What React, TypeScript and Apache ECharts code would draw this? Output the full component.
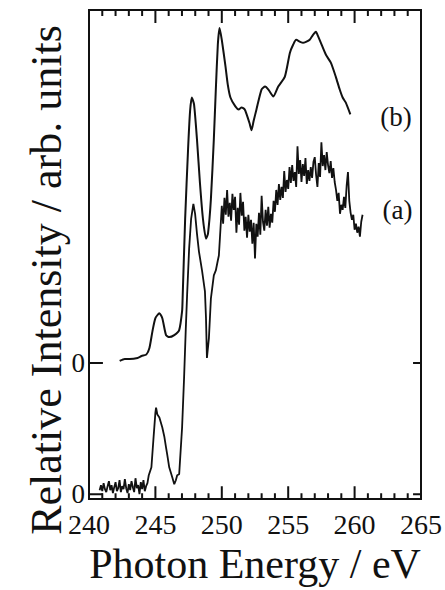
import React, { useEffect, useRef } from "react";
import * as echarts from "echarts";

// X axis (photon energy, eV)
const xMin = 240;
const xMax = 265;
const xInterval = 5;
const xMajorTicks = [245, 250, 255, 260];
const xMinorTicks = [
  241, 242, 243, 244, 246, 247, 248, 249, 251, 252, 253, 254,
  256, 257, 258, 259, 261, 262, 263, 264,
];

// Zero levels on the intensity axis (arb. units): (a) at 0, (b) offset
const zeroA = 0;
const offsetB = 13.2;
const yMin = -0.5;
const yMax = 48.7;
const yTickLabels = ["0", "0"];

const xTitle = "Photon Energy / eV";
const yTitle = "Relative Intensity / arb. units";
const seriesNames = ["(a)", "(b)"];

// Spectrum (b): smooth, values relative to its own zero
const spectrumB: number[][] = [
  [242.31, 0.2], [242.69, 0.4], [243.06, 0.4], [243.66, 0.5], [243.96, 0.7],
  [244.31, 0.83], [244.55, 1.5], [244.78, 3.2], [245.0, 4.5], [245.3, 5.0],
  [245.52, 4.5], [245.8, 2.8], [246.04, 2.6], [246.42, 2.8], [246.79, 3.3],
  [247.01, 5.2], [247.05, 6.5], [247.24, 14.5], [247.46, 21.5], [247.61, 25.3],
  [247.74, 26.7], [247.91, 26.0], [248.13, 22.5], [248.36, 18.0], [248.58, 14.5],
  [248.81, 12.5], [248.96, 13.0], [249.18, 16.5], [249.4, 22.5], [249.55, 27.5],
  [249.7, 32.0], [249.83, 33.7], [250.0, 32.5], [250.28, 29.8], [250.45, 28.0],
  [250.65, 26.7], [251.02, 25.8], [251.27, 25.5], [251.49, 25.7], [251.72, 25.5],
  [251.87, 25.0], [252.09, 24.1], [252.24, 23.4], [252.39, 24.3], [252.61, 25.5],
  [252.99, 27.5], [253.26, 27.8], [253.51, 27.5], [253.88, 26.8], [254.25, 27.8],
  [254.75, 28.8], [255.13, 31.2], [255.37, 32.0], [255.6, 32.5], [255.9, 32.3],
  [256.12, 32.2], [256.34, 32.3], [256.62, 32.5], [256.87, 33.0], [257.09, 33.3],
  [257.24, 32.9], [257.46, 32.2], [257.84, 31.0], [258.21, 30.2], [258.58, 28.8],
  [258.88, 27.5], [259.1, 26.7], [259.33, 26.2], [259.68, 25.0],
];

// Spectrum (a): noisy, values relative to its own zero
const spectrumA: number[][] = [
  [240.8, 0.4], [240.9, 0.9], [241.0, 0.3], [241.1, 1.1], [241.2, 0.5],
  [241.3, 0.2], [241.4, 0.8], [241.5, 1.3], [241.6, 0.4], [241.7, 0.9],
  [241.8, 0.1], [241.9, 0.7], [242.0, 1.2], [242.1, 0.3], [242.2, 0.6],
  [242.3, 1.4], [242.4, 0.2], [242.5, 0.8], [242.6, 0.5], [242.7, 1.5],
  [242.8, 0.6], [242.9, 0.1], [243.0, 1.0], [243.1, 0.4], [243.2, 1.3],
  [243.3, 0.7], [243.4, 0.2], [243.5, 1.6], [243.6, 0.6], [243.7, 0.9],
  [243.8, 0.0], [243.9, 1.2], [244.0, 0.5], [244.1, 1.4], [244.2, 0.3],
  [244.3, 0.8], [244.4, 1.1], [244.5, 1.9],
  [244.7, 2.7], [244.85, 5.5], [245.0, 8.2], [245.05, 8.7], [245.15, 8.0],
  [245.3, 7.7], [245.52, 6.7], [245.67, 5.8], [245.8, 4.7], [245.9, 3.9],
  [246.04, 2.7], [246.27, 1.7], [246.42, 1.0], [246.54, 1.4], [246.64, 1.9],
  [246.79, 2.0], [247.01, 6.7], [247.16, 11.7], [247.29, 16.7], [247.39, 20.1],
  [247.54, 24.7], [247.69, 27.7], [247.86, 29.2], [247.99, 28.2], [248.13, 26.2],
  [248.28, 24.4], [248.51, 22.5], [248.73, 20.4], [248.81, 17.7], [248.88, 13.7],
  [249.03, 15.7], [249.18, 19.7], [249.4, 22.0], [249.55, 22.5], [249.7, 23.5],
  [249.78, 24.0], [249.9, 26.7],
  [250.0, 29.0], [250.1, 27.2], [250.2, 29.8], [250.3, 28.1], [250.4, 30.6],
  [250.5, 27.9], [250.6, 29.3], [250.7, 27.5], [250.8, 30.2], [250.9, 28.6],
  [251.0, 29.9], [251.1, 26.3], [251.2, 28.8], [251.3, 27.1], [251.4, 30.3],
  [251.5, 28.0], [251.6, 29.4], [251.7, 26.5], [251.8, 27.9], [251.9, 25.8],
  [252.0, 28.1], [252.1, 26.4], [252.2, 27.6], [252.3, 25.2], [252.4, 27.3],
  [252.5, 23.7], [252.6, 27.2], [252.7, 25.9], [252.8, 28.3], [252.9, 26.1],
  [253.0, 30.0], [253.1, 27.4], [253.2, 26.5], [253.3, 28.6], [253.4, 27.0],
  [253.5, 28.9], [253.6, 26.8], [253.7, 28.2], [253.8, 27.3], [253.9, 29.5],
  [254.0, 28.4], [254.1, 30.6], [254.2, 29.1], [254.3, 31.2], [254.4, 29.6],
  [254.5, 30.9], [254.6, 29.8], [254.7, 32.5], [254.8, 30.4], [254.9, 31.6],
  [255.0, 30.7], [255.1, 32.9], [255.2, 31.3], [255.3, 33.1], [255.4, 31.5],
  [255.5, 32.4], [255.6, 30.9], [255.7, 35.0], [255.8, 32.2], [255.9, 33.6],
  [256.0, 31.4], [256.1, 33.2], [256.2, 32.0], [256.3, 33.8], [256.4, 31.2],
  [256.5, 32.6], [256.6, 31.5], [256.7, 32.9], [256.8, 31.8], [256.9, 33.4],
  [257.0, 33.9], [257.1, 32.1], [257.2, 30.9], [257.3, 33.3], [257.4, 31.9],
  [257.5, 35.4], [257.6, 33.0], [257.7, 34.1], [257.8, 32.6], [257.9, 34.4],
  [258.0, 33.1], [258.1, 32.3], [258.2, 33.5], [258.3, 31.8], [258.4, 32.8],
  [258.5, 31.4], [258.6, 30.6], [258.7, 29.5], [258.8, 30.3], [258.9, 28.2],
  [259.0, 29.1], [259.1, 28.6], [259.2, 29.9], [259.3, 28.8], [259.4, 31.0],
  [259.5, 32.4], [259.6, 29.5], [259.7, 28.3], [259.8, 27.6], [259.9, 28.1],
  [260.0, 26.6], [260.1, 27.2], [260.2, 26.3], [260.3, 26.9], [260.4, 25.9],
  [260.5, 27.4], [260.6, 28.1],
];

const FONT = "'Liberation Serif', 'DejaVu Serif', serif";
const BLACK = "#111";

// Layout (pixels)
const W = 445;
const H = 590;
const GRID = { left: 89, right: 22, top: 10, bottom: 88 };

export default function App() {
  const ref = useRef<HTMLDivElement>(null);

  useEffect(() => {
    document.body.style.margin = "0";
    if (!ref.current) return;
    const chart = echarts.init(ref.current, null, { renderer: "svg" });

    const bShifted = spectrumB.map(([e, v]) => [e, v + offsetB]);
    const zeroLevels = [zeroA, offsetB];
    let labelIdx = 0;

    // convert tick lengths given in pixels to data units of the axes
    const pxPerX = (W - GRID.left - GRID.right) / (xMax - xMin);
    const pxPerY = (H - GRID.top - GRID.bottom) / (yMax - yMin);
    const dy = (px: number) => px / pxPerY;
    const dx = (px: number) => px / pxPerX;

    // Tick marks as broken line segments (gaps via "-")
    const xTickData = (values: number[], lenPx: number) => {
      const out: any[] = [];
      values.forEach((v) => {
        out.push([v, yMin], [v, yMin + dy(lenPx)], [v, "-"]);
        out.push([v, yMax], [v, yMax - dy(lenPx)], [v, "-"]);
      });
      return out;
    };
    const yTickData = () => {
      const out: any[] = [];
      zeroLevels.forEach((z) => {
        out.push([xMin, z], [xMin + dx(14), z], ["-", "-"]);
        out.push([xMax, z], [xMax - dx(8), z], ["-", "-"]);
      });
      return out;
    };
    const tickSeries = (data: any[]) => ({
      type: "line",
      data,
      silent: true,
      showSymbol: false,
      connectNulls: false,
      clip: false,
      lineStyle: { color: BLACK, width: 2 },
      z: 4,
    });

    chart.setOption({
      animation: false,
      grid: {
        ...GRID,
        show: true,
        borderColor: BLACK,
        borderWidth: 2,
        backgroundColor: "transparent",
      },
      xAxis: {
        type: "value",
        min: xMin,
        max: xMax,
        interval: xInterval,
        name: xTitle,
        nameLocation: "middle",
        nameGap: 43,
        nameTextStyle: { color: BLACK, fontFamily: FONT, fontSize: 42 },
        axisLine: { show: false, onZero: false },
        axisTick: { show: false },
        axisLabel: { show: true, margin: 11, color: BLACK, fontFamily: FONT, fontSize: 28 },
        splitLine: { show: false },
      },
      yAxis: {
        type: "value",
        min: yMin,
        max: yMax,
        axisLine: { show: false, onZero: false },
        axisTick: { show: false },
        axisLabel: {
          show: true,
          customValues: zeroLevels,
          margin: 4,
          color: BLACK,
          fontFamily: FONT,
          fontSize: 27,
          formatter: () => yTickLabels[labelIdx++ % yTickLabels.length],
        },
        splitLine: { show: false },
      },
      graphic: [
        {
          type: "text",
          x: 46,
          y: 280,
          rotation: Math.PI / 2,
          style: {
            text: yTitle,
            font: `44px ${FONT}`,
            fill: BLACK,
            align: "center",
            verticalAlign: "middle",
          },
        },
      ],
      series: [
        {
          name: seriesNames[0],
          type: "line",
          data: spectrumA,
          showSymbol: false,
          lineStyle: { color: BLACK, width: 1.8 },
          endLabel: {
            show: true,
            formatter: seriesNames[0],
            color: BLACK,
            fontFamily: FONT,
            fontSize: 27,
            offset: [12, -5],
          },
        },
        {
          name: seriesNames[1],
          type: "line",
          data: bShifted,
          showSymbol: false,
          smooth: 0.2,
          lineStyle: { color: BLACK, width: 2 },
          endLabel: {
            show: true,
            formatter: seriesNames[1],
            color: BLACK,
            fontFamily: FONT,
            fontSize: 27,
            offset: [22, 3],
          },
        },
        tickSeries(xTickData(xMajorTicks, 13)),
        tickSeries(xTickData(xMinorTicks, 6)),
        tickSeries(yTickData()),
      ],
    });

    return () => chart.dispose();
  }, []);

  return <div ref={ref} style={{ width: W, height: H }} />;
}
